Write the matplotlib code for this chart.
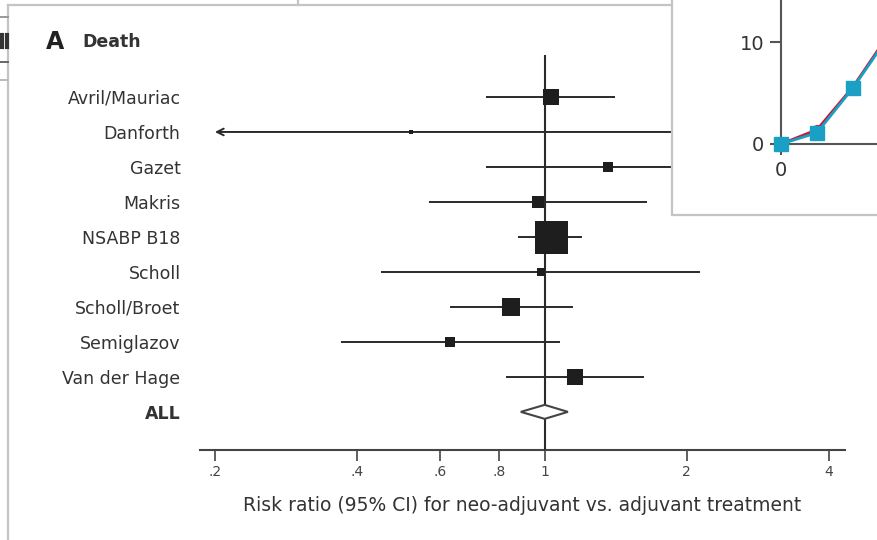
import numpy as np
import matplotlib.pyplot as plt
from matplotlib.patches import Polygon, Rectangle
from matplotlib.lines import Line2D

# Per-study risk ratios (neo-adjuvant vs. adjuvant), death endpoint
studies = ['Avril/Mauriac', 'Danforth', 'Gazet', 'Makris', 'NSABP B18',
           'Scholl', 'Scholl/Broet', 'Semiglazov', 'Van der Hage']
rr = [1.03, 0.52, 1.36, 0.97, 1.03, 0.98, 0.85, 0.63, 1.16]
ci_low = [0.75, 0.10, 0.75, 0.57, 0.88, 0.45, 0.63, 0.37, 0.83]
ci_high = [1.41, 2.90, 2.60, 1.65, 1.20, 2.13, 1.15, 1.08, 1.62]
weights = [12.1, 0.7, 3.4, 6.0, 45.7, 2.1, 15.1, 4.2, 10.7]

pooled_rr = 1.00
pooled_low = 0.89
pooled_high = 1.12

xticks = [0.2, 0.4, 0.6, 0.8, 1, 2, 4]
xtick_labels = ['.2', '.4', '.6', '.8', '1', '2', '4']

# small growth chart sitting over the top-right corner
inset_x = [0, 1, 2, 3]
inset_red = [0, 1.4, 5.6, 10.8]
inset_teal = [0, 1.1, 5.5, 10.6]

W, H = 877, 540
fig = plt.figure(figsize=(W / 100, H / 100), dpi=100)
fig.patch.set_facecolor('white')


def fx(px):
    return px / W


def fy(py):
    return 1 - py / H


ink = '#2a2a2a'
plt.rcParams['font.family'] = 'DejaVu Sans'

# ---- forest plot ----
ax = fig.add_axes([fx(200), fy(450), fx(845) - fx(200), fy(55) - fy(450)])
ax.set_xscale('log')
ax.set_xlim(0.186, 4.33)
ax.set_ylim(10.09, -1.2)

clip_left = 0.2
for i, (est, lo, hi, w) in enumerate(zip(rr, ci_low, ci_high, weights)):
    if lo < clip_left:
        ax.annotate('', xy=(clip_left, i), xytext=(hi, i),
                    arrowprops=dict(arrowstyle='->', lw=1.4, color=ink,
                                    shrinkA=0, shrinkB=0, mutation_scale=12))
    else:
        ax.plot([lo, hi], [i, i], color=ink, lw=1.4, solid_capstyle='butt')
    side_px = 33 * np.sqrt(w / max(weights))
    ax.plot(est, i, marker='s', color='#1e1e1e', markersize=side_px * 0.72,
            markeredgewidth=0, zorder=4)

n = len(studies)
half_h = 0.2
diamond = Polygon([(pooled_low, n), (pooled_rr, n - half_h),
                   (pooled_high, n), (pooled_rr, n + half_h)],
                  closed=True, facecolor='white', edgecolor='#444444', lw=1.5, zorder=5)
ax.add_patch(diamond)

ax.axvline(1, color=ink, lw=1.5, zorder=3)

ax.set_xticks(xticks)
ax.set_xticklabels(xtick_labels, fontsize=10, color='#444444')
ax.minorticks_off()
ax.tick_params(axis='x', direction='out', length=8, width=1.2, color='#444444', pad=3)

ax.set_yticks(range(n + 1))
ax.set_yticklabels(studies + ['ALL'], fontsize=12.5, color='#333333')
ax.get_yticklabels()[-1].set_fontweight('bold')
ax.tick_params(axis='y', length=0, pad=14)

for s in ['top', 'left', 'right']:
    ax.spines[s].set_visible(False)
ax.spines['bottom'].set_color('#444444')
ax.spines['bottom'].set_linewidth(1.5)

ax.set_xlabel('Risk ratio (95% CI) for neo-adjuvant vs. adjuvant treatment',
              fontsize=13.5, color='#333333', labelpad=12)

fig.text(fx(46), fy(49), 'A', fontsize=17, fontweight='bold', color='#222222', va='baseline')
fig.text(fx(82), fy(47), 'Death', fontsize=12.5, fontweight='bold', color='#333333', va='baseline')

# ---- panel frames ----
frame = '#c4c4c4'
fig.add_artist(Line2D([fx(8), fx(8)], [fy(5), fy(545)], color=frame, lw=1.6, transform=fig.transFigure))
fig.add_artist(Line2D([fx(8), fx(672)], [fy(5), fy(5)], color=frame, lw=1.6, transform=fig.transFigure))
fig.add_artist(Line2D([fx(298), fx(298)], [fy(-2), fy(5)], color=frame, lw=1.6, transform=fig.transFigure))
for yy, col in [(17, '#999999'), (62, '#666666'), (80, '#bbbbbb')]:
    fig.add_artist(Line2D([fx(-2), fx(8)], [fy(yy), fy(yy)], color=col, lw=1.4, transform=fig.transFigure))
# clipped edge of the neighbouring window
for xx in [1.5, 6.5]:
    fig.add_artist(Line2D([fx(xx), fx(xx)], [fy(35), fy(47)], color='#333333', lw=3,
                          transform=fig.transFigure))

box = Rectangle((fx(672), fy(215)), fx(920) - fx(672), fy(-20) - fy(215),
                transform=fig.transFigure, facecolor='white', edgecolor=frame, lw=1.6, zorder=5)
fig.add_artist(box)

# ---- inset growth chart ----
ins = fig.add_axes([fx(781), fy(144), fx(900) - fx(781), fy(-20) - fy(144)], zorder=6)
ins.patch.set_alpha(0)
ins.set_xlim(0, (900 - 781) / 36)
ins.set_ylim(0, 164 / 10.2)
ins.plot(inset_x, inset_red, color='#c8163f', lw=2, marker='o', markersize=7, clip_on=False, zorder=3)
ins.plot(inset_x, inset_teal, color='#1aa0c4', lw=2, marker='s', markersize=9.5, clip_on=False, zorder=4)
ins.set_xticks([0])
ins.set_yticks([0, 10])
ins.tick_params(axis='both', length=8, width=1.5, color='#555555', labelsize=14,
                labelcolor='#333333', pad=4)
for s in ['top', 'right']:
    ins.spines[s].set_visible(False)
for s in ['left', 'bottom']:
    ins.spines[s].set_color('#555555')
    ins.spines[s].set_linewidth(1.5)

fig.savefig('out.png', dpi=100)
